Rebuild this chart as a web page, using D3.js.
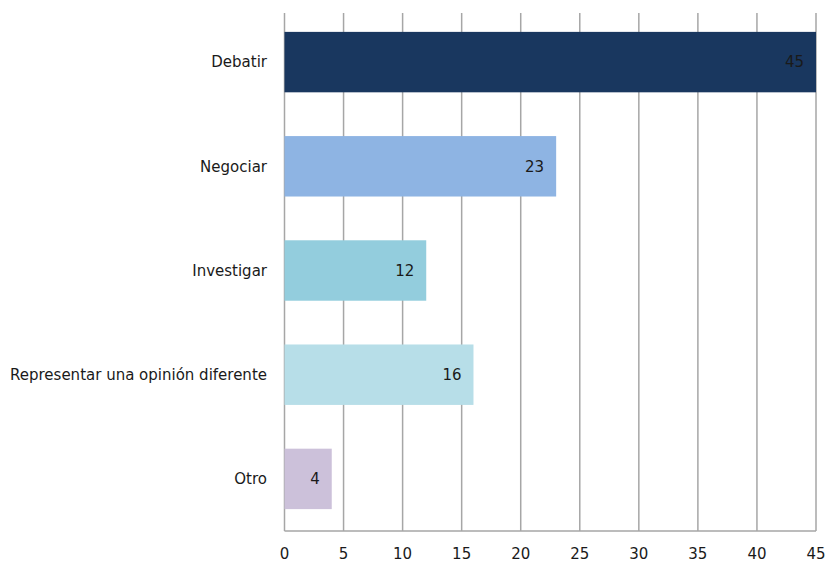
<!DOCTYPE html>
<html>
<head>
<meta charset="utf-8">
<script src="https://cdn.jsdelivr.net/npm/d3@7"></script>
<style>
  body { margin: 0; background: #fff; }
  text { font-family: "DejaVu Sans", Verdana, sans-serif; font-size: 15px; fill: #1a1a1a; }
</style>
</head>
<body>
<div id="chart"></div>
<script>
// Data
const categories = ["Debatir", "Negociar", "Investigar", "Representar una opinión diferente", "Otro"];
const values = [45, 23, 12, 16, 4];
const colors = ["#19375f", "#8eb4e3", "#93cddd", "#b7dee8", "#ccc1da"];
const xTicks = [0, 5, 10, 15, 20, 25, 30, 35, 40, 45];

const width = 838, height = 563;
const plotLeft = 284.5, plotRight = 816, plotTop = 13, plotBottom = 531;

const svg = d3.select("#chart").append("svg")
    .attr("width", width)
    .attr("height", height);

const x = d3.scaleLinear()
    .domain([0, 45])
    .range([plotLeft, plotRight]);

const y = d3.scaleBand()
    .domain(categories)
    .range([10, 531])
    .paddingInner(0.42)
    .paddingOuter(0.21);

// Vertical gridlines
svg.append("g")
    .selectAll("line")
    .data(xTicks)
    .enter().append("line")
    .attr("x1", d => x(d))
    .attr("x2", d => x(d))
    .attr("y1", plotTop)
    .attr("y2", plotBottom)
    .attr("stroke", "#a6a6a6")
    .attr("stroke-width", 1.5);

// Bottom axis line
svg.append("line")
    .attr("x1", plotLeft)
    .attr("x2", plotRight)
    .attr("y1", plotBottom)
    .attr("y2", plotBottom)
    .attr("stroke", "#a6a6a6")
    .attr("stroke-width", 1.5);

// Bars
svg.append("g")
    .selectAll("rect")
    .data(categories)
    .enter().append("rect")
    .attr("x", x(0))
    .attr("y", d => y(d))
    .attr("width", (d, i) => x(values[i]) - x(0))
    .attr("height", y.bandwidth())
    .attr("fill", (d, i) => colors[i]);

// Value labels
svg.append("g")
    .selectAll("text")
    .data(categories)
    .enter().append("text")
    .attr("x", (d, i) => x(values[i]) - 12)
    .attr("y", d => y(d) + y.bandwidth() / 2)
    .attr("dy", "0.35em")
    .attr("text-anchor", "end")
    .text((d, i) => values[i]);

// Category labels
svg.append("g")
    .selectAll("text")
    .data(categories)
    .enter().append("text")
    .attr("x", 267)
    .attr("y", d => y(d) + y.bandwidth() / 2)
    .attr("dy", "0.35em")
    .attr("text-anchor", "end")
    .text(d => d);

// X tick labels
svg.append("g")
    .selectAll("text")
    .data(xTicks)
    .enter().append("text")
    .attr("x", d => x(d))
    .attr("y", 554)
    .attr("dy", "0.35em")
    .attr("text-anchor", "middle")
    .text(d => d);
</script>
</body>
</html>
